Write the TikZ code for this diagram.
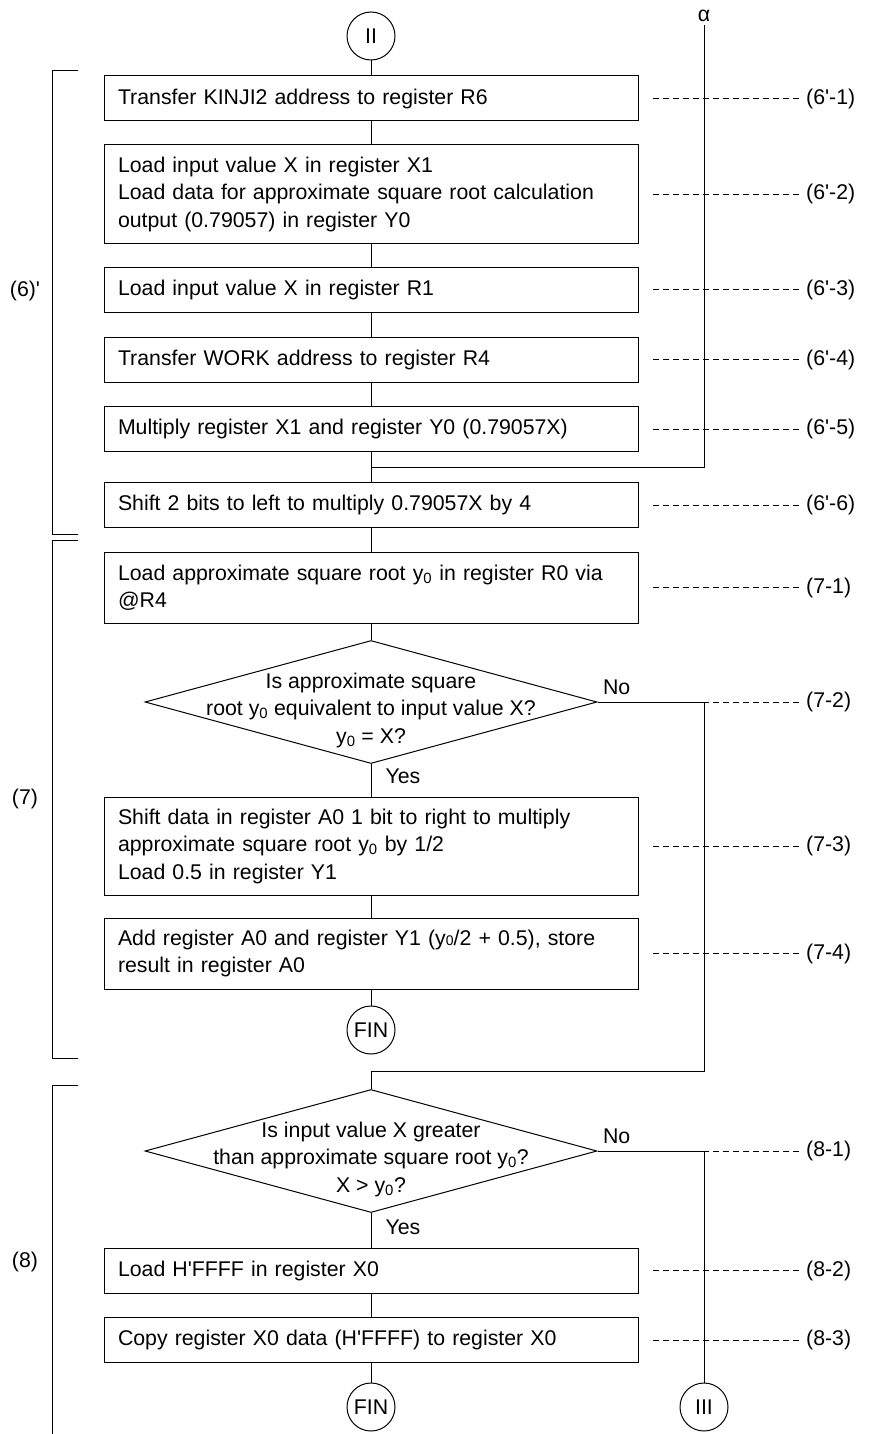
\documentclass[tikz,border=0pt]{standalone}
\usepackage{fontspec}
\setmainfont{Liberation Sans}
\usetikzlibrary{shapes.geometric, calc}

\newcommand{\apos}{\textquotesingle}
\newcommand{\yz}{y\textsubscript{0}}
\newcommand{\smallz}{{\fontsize{14}{14}\selectfont 0}}

\tikzset{
  stepbox/.style={draw, line width=1pt, text width=506pt, inner xsep=14pt, inner ysep=0pt, align=left, minimum height=45pt},
  decision/.style={draw, line width=1pt, diamond, minimum width=452pt, minimum height=123pt, inner sep=0pt},
  qtext/.style={align=center, inner sep=0pt},
  terminal/.style={draw, line width=1pt, circle, minimum size=48pt, inner sep=0pt},
  flow/.style={line width=1pt},
  leader/.style={line width=0.8pt, dash pattern=on 6pt off 4pt},
  tag/.style={anchor=west, inner xsep=4pt},
}

\begin{document}
\begin{tikzpicture}[x=1pt, y=-1pt, font=\fontsize{21.3}{27.5}\selectfont]
  \useasboundingbox (0,0) rectangle (873,1434);
  \coordinate (rx) at (704,0);
  \coordinate (leadx) at (653,0);
  \coordinate (tagx) at (802,0);

  % section (6)'
  \node[terminal] (ii) at (371,36) {II};
  \node (alpha) at (704,16) {α};
  \node[stepbox] (b1) at (371,98.5) {Transfer KINJI2 address to register R6};
  \node[stepbox, minimum height=98pt] (b2) at (371,194) {Load input value X in register X1\\
    Load data for approximate square root calculation\\ output (0.79057) in register Y0};
  \node[stepbox] (b3) at (371,289.5) {Load input value X in register R1};
  \node[stepbox] (b4) at (371,359.5) {Transfer WORK address to register R4};
  \node[stepbox] (b5) at (371,429) {Multiply register X1 and register Y0 (0.79057X)};
  \node[stepbox] (b6) at (371,505) {Shift 2 bits to left to multiply 0.79057X by 4};
  \coordinate (ajoin) at ($(b5.south)!0.5!(b6.north)$);

  % section (7)
  \node[stepbox, minimum height=71pt] (b71) at (371,587.5) {Load approximate square root \yz{} in register R0 via\\ @R4};
  \node[decision] (q1) at (371,702) {};
  \node[qtext] (q1t) at ([yshift=-8pt]q1.center) {Is approximate square\\
    root \yz{} equivalent to input value X?\\ \yz{} = X?};
  \node[anchor=base west] (no1) at ([xshift=2pt,yshift=8pt]q1.east) {No};
  \node[anchor=base west] (yes1) at ([xshift=11pt,yshift=-19pt]q1.south) {Yes};
  \node[stepbox, minimum height=98pt] (b73) at (371,846) {Shift data in register A0 1 bit to right to multiply\\
    approximate square root \yz{} by 1/2\\ Load 0.5 in register Y1};
  \node[stepbox, minimum height=71pt] (b74) at (371,953.5) {Add register A0 and register Y1 (y\smallz/2 + 0.5), store\\ result in register A0};
  \node[terminal] (fin1) at (371,1030) {FIN};

  % section (8)
  \node[decision] (q2) at (371,1151) {};
  \node[qtext] (q2t) at ([yshift=-8pt]q2.center) {Is input value X greater\\
    than approximate square root \yz?\\ X {>} \yz?};
  \node[anchor=base west] (no2) at ([xshift=2pt,yshift=8pt]q2.east) {No};
  \node[anchor=base west] (yes2) at ([xshift=11pt,yshift=-21pt]q2.south) {Yes};
  \node[stepbox] (b82) at (371,1270.5) {Load H\apos FFFF in register X0};
  \node[stepbox] (b83) at (371,1340) {Copy register X0 data (H\apos FFFF) to register X0};
  \node[terminal] (fin2) at (371,1407) {FIN};
  \node[terminal] (iii) at (704,1407) {III};
  \coordinate (ret1) at ($(fin1.south)!0.5!(q2.north)$);

  % step tags
  \node[tag] (t61) at (b1.east -| tagx) {(6\apos-1)};
  \node[tag] (t62) at (b2.east -| tagx) {(6\apos-2)};
  \node[tag] (t63) at (b3.east -| tagx) {(6\apos-3)};
  \node[tag] (t64) at (b4.east -| tagx) {(6\apos-4)};
  \node[tag] (t65) at (b5.east -| tagx) {(6\apos-5)};
  \node[tag] (t66) at (b6.east -| tagx) {(6\apos-6)};
  \node[tag] (t71) at (b71.east -| tagx) {(7-1)};
  \node[tag] (t72) at (q1.east -| tagx) {(7-2)};
  \node[tag] (t73) at (b73.east -| tagx) {(7-3)};
  \node[tag] (t74) at (b74.east -| tagx) {(7-4)};
  \node[tag] (t81) at (q2.east -| tagx) {(8-1)};
  \node[tag] (t82) at (b82.east -| tagx) {(8-2)};
  \node[tag] (t83) at (b83.east -| tagx) {(8-3)};
  \foreach \t in {t61,t62,t63,t64,t65,t66,t71,t72,t73,t74,t81,t82,t83}
    \draw[leader] (\t.west -| leadx) -- (\t.west);

  % flow lines
  \draw[flow] (ii) -- (b1) -- (b2) -- (b3) -- (b4) -- (b5) -- (b6) -- (b71) -- (q1.north);
  \draw[flow] (q1.south) -- (b73) -- (b74) -- (fin1);
  \draw[flow] (alpha.south) |- (ajoin);
  \draw[flow] (q1.east) -| (ret1 -| rx) -- (ret1) -- (q2.north);
  \draw[flow] (q2.south) -- (b82) -- (b83) -- (fin2);
  \draw[flow] (q2.east) -| (iii.north);

  % brackets
  \draw[flow] (78,71) -| (52,534) -- (78,534);
  \draw[flow] (78,540) -| (52,1058) -- (78,1058);
  \draw[flow] (78,1085) -| (52,1434);
  \node (s6) at (25,291) {(6)\apos};
  \node (s7) at (25,799) {(7)};
  \node (s8) at (25,1262) {(8)};
\end{tikzpicture}
\end{document}
